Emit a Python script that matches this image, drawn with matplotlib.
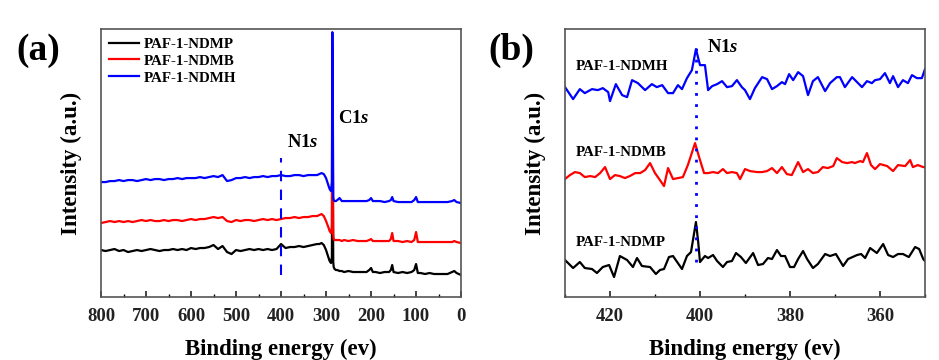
import matplotlib
matplotlib.use("Agg")
import matplotlib.pyplot as plt
from matplotlib.ticker import MultipleLocator

plt.rcParams['font.family'] = ['Liberation Serif', 'DejaVu Serif']
plt.rcParams['font.weight'] = 'bold'
plt.rcParams['mathtext.fontset'] = 'custom'
plt.rcParams['mathtext.it'] = 'Liberation Serif:bold:italic'
plt.rcParams['mathtext.rm'] = 'Liberation Serif:bold'

# ---------------- Panel (a): survey spectra ----------------
survey_energy = [800, 790, 780, 770, 760, 750, 740, 730, 720, 710, 700, 690, 680, 670, 660,
                 650, 640, 630, 620, 610, 600, 590, 580, 570, 560, 550, 540, 530, 520, 510,
                 500, 490, 480, 470, 460, 450, 440, 430, 420, 410, 400, 390, 380, 370, 360,
                 350, 340, 330, 320,
                 315, 310, 305, 300, 295, 292, 289, 287, 286, 285, 284, 283, 281, 278, 275,
                 270, 265, 260,
                 250, 240, 230, 220, 210, 204, 200, 196, 190, 180, 170, 160, 156, 153, 150,
                 140, 130, 120, 110, 104, 100, 96, 90, 80, 70, 60, 50, 40, 30, 20, 15, 10, 0]

survey_ndmp = [47, 46, 47, 48, 46, 47, 45, 46, 47, 46, 47, 48, 47, 46, 47,
               47, 48, 47, 48, 47, 49, 48, 49, 49, 50, 52, 48, 51, 45, 43,
               47, 46, 47, 48, 47, 48, 47, 48, 47, 48, 53, 49, 50, 50, 51,
               50, 51, 52, 53,
               53, 54, 52, 47, 40, 36, 34, 40, 200, 120, 35, 30, 28, 27, 27,
               26, 26, 25,
               26, 25, 25, 25, 25, 27, 29, 25, 25, 24, 25, 25, 27, 32, 25,
               24, 25, 24, 25, 27, 33, 24, 24, 23, 24, 23, 23, 23, 23, 25, 26, 24, 22]

survey_ndmb = [74, 75, 76, 75, 76, 75, 76, 75, 76, 77, 76, 77, 76, 76, 77,
               76, 77, 77, 76, 77, 78, 77, 78, 78, 79, 80, 79, 80, 76, 75,
               77, 76, 77, 77, 76, 77, 78, 77, 78, 77, 78, 79, 79, 80, 79,
               80, 80, 81, 81,
               82, 83, 81, 76, 70, 66, 64, 70, 240, 150, 62, 58, 57, 57, 57,
               57, 56, 57,
               56, 57, 56, 56, 56, 57, 58, 56, 56, 56, 56, 56, 58, 64, 56,
               56, 55, 56, 55, 57, 65, 55, 55, 55, 55, 55, 55, 55, 55, 55, 56, 55, 54]

survey_ndmh = [115, 115, 116, 116, 117, 116, 117, 117, 116, 117, 118, 117, 118, 118, 117,
               118, 118, 119, 118, 119, 119, 119, 120, 119, 120, 121, 120, 122, 116, 117,
               119, 119, 120, 119, 120, 120, 121, 120, 121, 121, 122, 121, 121, 122, 122,
               121, 122, 122, 122,
               123, 124, 123, 119, 112, 108, 106, 115, 265, 200, 100, 97, 96, 96, 97,
               99, 96, 96,
               96, 96, 96, 96, 96, 97, 99, 96, 96, 96, 95, 96, 97, 100, 96,
               95, 95, 95, 95, 97, 100, 95, 95, 95, 95, 95, 95, 95, 95, 96, 97, 95, 94]

survey_labels = ['PAF-1-NDMP', 'PAF-1-NDMB', 'PAF-1-NDMH']
survey_ticks = [800, 700, 600, 500, 400, 300, 200, 100, 0]
n1s_survey_energy = 400

# ---------------- Panel (b): N1s high-resolution ----------------
ndmp_energy = [430.0, 428.2, 426.7, 425.6, 424.0, 422.9, 421.6, 420.2, 419.1, 417.8, 416.2,
               414.9, 414.0, 412.9, 411.1, 409.8, 408.9, 408.0, 406.9, 406.0, 404.0, 402.9,
               402.0, 400.9, 400.4, 400.0, 398.9, 398.2, 397.1, 396.2, 394.9, 394.0, 392.9,
               392.0, 390.9, 389.8, 388.2, 387.1, 386.0, 384.9, 384.0, 382.9, 382.0, 381.1,
               380.0, 379.1, 378.2, 377.1, 376.2, 374.9, 373.8, 372.2, 371.1, 369.8, 368.2,
               367.1, 365.1, 364.2, 363.3, 362.2, 360.7, 359.3, 358.2, 357.1, 356.0, 354.9,
               353.6, 352.2, 351.3, 350.4, 350.0]
ndmp_int = [37, 29, 35, 29, 28, 24, 30, 32, 20, 41, 37,
            30, 39, 31, 30, 23, 27, 28, 40, 41, 28, 41,
            45, 75, 55, 35, 41, 39, 42, 36, 30, 35, 36,
            44, 40, 34, 44, 32, 33, 39, 38, 47, 41, 41,
            30, 30, 38, 46, 38, 29, 33, 43, 41, 43, 31,
            38, 42, 43, 39, 49, 44, 53, 42, 40, 43, 43,
            40, 50, 48, 38, 36]

ndmb_energy = [430.0, 428.9, 427.8, 426.7, 425.6, 424.4, 423.3, 422.2, 421.1, 420.0, 418.9,
               417.8, 416.7, 415.6, 414.4, 413.3, 412.2, 411.1, 410.0, 408.9, 408.0, 407.1,
               406.0, 404.9, 403.8, 402.7, 401.1, 400.2, 399.1, 398.2, 397.1, 396.0, 394.9,
               394.0, 392.9, 391.8, 391.1, 390.0, 388.9, 387.3, 386.2, 385.1, 384.0, 382.9,
               381.8, 380.7, 379.6, 378.2, 377.1, 376.0, 374.9, 373.8, 372.7, 371.6, 370.4,
               369.6, 368.4, 367.3, 366.2, 365.6, 364.4, 363.8, 362.9, 362.0, 361.1, 360.0,
               358.4, 357.1, 356.0, 354.4, 353.3, 352.7, 351.6, 350.4, 350.0]
ndmb_int = [118, 122, 125, 124, 120, 121, 120, 124, 130, 118, 122,
            121, 119, 121, 124, 124, 127, 134, 124, 117, 111, 129,
            118, 119, 120, 132, 154, 140, 124, 124, 125, 124, 128,
            124, 125, 124, 118, 128, 126, 125, 125, 126, 129, 124,
            130, 123, 122, 135, 125, 128, 124, 125, 130, 129, 131,
            139, 135, 134, 135, 134, 136, 135, 144, 132, 128, 133,
            131, 126, 132, 131, 137, 130, 132, 130, 130]

ndmh_energy = [430.0, 428.2, 426.7, 425.6, 424.0, 422.7, 421.6, 420.4, 420.0, 418.7, 417.3,
               416.2, 415.1, 413.8, 412.2, 410.7, 409.6, 408.4, 407.1, 406.0, 404.9, 404.0,
               402.9, 401.8, 400.9, 400.0, 398.9, 398.2, 397.3, 396.2, 395.1, 394.0, 392.9,
               391.8, 390.7, 390.0, 388.9, 387.8, 386.2, 385.1, 384.0, 382.9, 381.8, 381.1,
               380.2, 379.3, 378.2, 377.1, 376.0, 374.9, 373.8, 372.2, 371.1, 369.6, 368.9,
               367.8, 366.2, 365.1, 364.0, 362.9, 361.8, 361.1, 360.0, 358.9, 357.8, 357.1,
               356.0, 354.9, 353.8, 352.9, 351.8, 350.7, 350.0]
ndmh_int = [210, 198, 208, 204, 208, 207, 209, 205, 196, 213, 202,
            200, 217, 214, 207, 213, 210, 212, 204, 204, 212, 208,
            219, 227, 248, 232, 232, 207, 211, 213, 216, 210, 211,
            217, 210, 207, 198, 209, 220, 218, 208, 211, 215, 213,
            223, 217, 225, 221, 202, 216, 220, 206, 214, 220, 220,
            210, 220, 215, 210, 216, 214, 217, 218, 224, 214, 221,
            210, 217, 214, 222, 219, 219, 228]

hr_ticks = [420, 400, 380, 360]
n1s_hr_energy = 401

colors = ['#000000', '#ff0000', '#0000ff']
spine_color = '#555555'

fig = plt.figure(figsize=(9.39, 3.6), dpi=100)
axa = fig.add_axes([0.1076, 0.175, 0.3834, 0.744])
axb = fig.add_axes([0.6017, 0.175, 0.3834, 0.744])

for ys, c, lab in zip([survey_ndmp, survey_ndmb, survey_ndmh], colors, survey_labels):
    axa.plot(survey_energy, ys, color=c, lw=1.6, label=lab)
axa.plot([n1s_survey_energy, n1s_survey_energy], [22, 139], color='#0000ff', lw=1.5,
         ls=(0, (5, 4)))
axa.set_xlim(800, 0)
axa.set_ylim(0, 268)
axa.set_xticks(survey_ticks)
axa.xaxis.set_minor_locator(MultipleLocator(50))
axa.text(386, 155, r'N1$s$', fontsize=13.5, fontweight='bold', va='center')
axa.text(274, 179, r'C1$s$', fontsize=13.5, fontweight='bold', va='center')
leg = axa.legend(loc='upper left', frameon=False, fontsize=10.8, handlelength=2.0,
                 handletextpad=0.3, labelspacing=0.22, borderaxespad=0.15,
                 bbox_to_anchor=(0.0, 1.0))
for t in leg.get_texts():
    t.set_fontweight('bold')

axb.plot(ndmp_energy, ndmp_int, color=colors[0], lw=1.6)
axb.plot(ndmb_energy, ndmb_int, color=colors[1], lw=1.6)
axb.plot(ndmh_energy, ndmh_int, color=colors[2], lw=1.6)
axb.plot([n1s_hr_energy, n1s_hr_energy], [35, 257], color='#0000ff', lw=2,
         ls=(0, (1, 3)))
axb.set_xlim(430, 350)
axb.set_ylim(0, 268)
axb.set_xticks(hr_ticks)
axb.xaxis.set_minor_locator(MultipleLocator(10))
axb.text(398.5, 250, r'N1$s$', fontsize=13.5, fontweight='bold', va='center')
axb.text(427.5, 231, 'PAF-1-NDMH', fontsize=10.8, fontweight='bold', va='center')
axb.text(427.5, 145, 'PAF-1-NDMB', fontsize=10.8, fontweight='bold', va='center')
axb.text(427.5, 55, 'PAF-1-NDMP', fontsize=10.8, fontweight='bold', va='center')

for ax in (axa, axb):
    ax.set_yticks([])
    ax.tick_params(axis='x', which='major', direction='in', length=4, width=1.2,
                   labelsize=13.5, pad=8, colors='#222222')
    ax.tick_params(axis='x', which='minor', direction='in', length=2.5, width=1.0)
    for lbl in ax.get_xticklabels():
        lbl.set_fontweight('bold')
    for s in ax.spines.values():
        s.set_color(spine_color)
        s.set_linewidth(1.2)
    ax.set_xlabel('Binding energy (ev)', fontsize=16.5, fontweight='bold', labelpad=10)
    ax.set_ylabel('Intensity (a.u.)', fontsize=16.5, fontweight='bold', labelpad=14)

fig.text(0.017, 0.861, '(a)', fontsize=27, fontweight='bold', va='center')
fig.text(0.520, 0.861, '(b)', fontsize=27, fontweight='bold', va='center')

fig.savefig('out.png', dpi=100, facecolor='white')
